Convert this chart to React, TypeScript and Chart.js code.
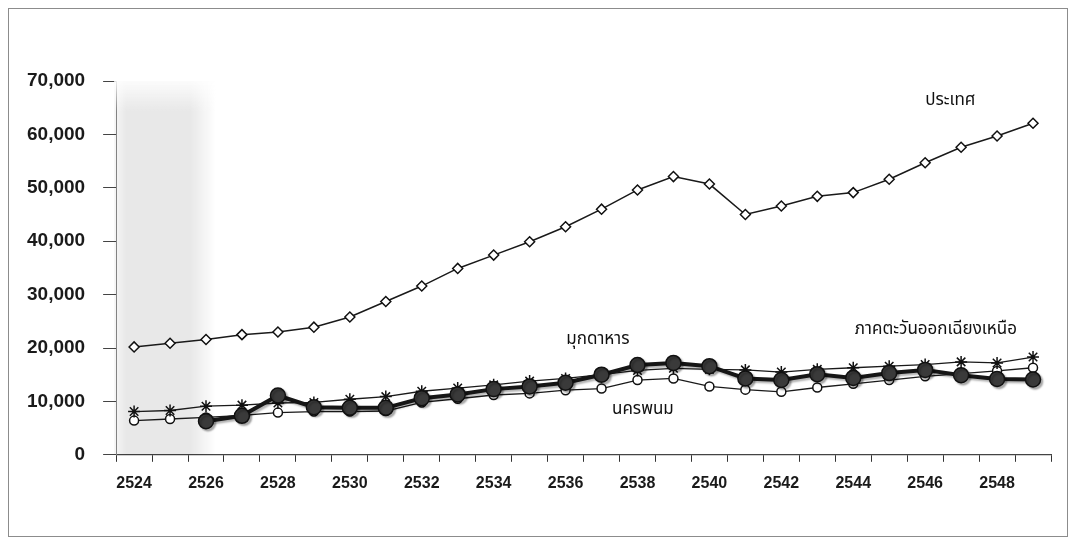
import React, { useEffect, useRef } from "react";
import { Chart, registerables } from "chart.js";

Chart.register(...registerables);

// ---- data ----
const years = [
  "2524", "2525", "2526", "2527", "2528", "2529", "2530", "2531", "2532",
  "2533", "2534", "2535", "2536", "2537", "2538", "2539", "2540", "2541",
  "2542", "2543", "2544", "2545", "2546", "2547", "2548", "2549",
];

const seriesNames = ["มุกดาหาร", "ภาคตะวันออกเฉียงเหนือ", "นครพนม", "ประเทศ"];

const country = [
  20200, 20900, 21600, 22500, 23000, 23900, 25800, 28700, 31600, 34900, 37400,
  39900, 42700, 46000, 49600, 52100, 50700, 45000, 46600, 48400, 49100, 51600,
  54700, 57600, 59700, 62100,
];

const northeast = [
  8100, 8300, 9100, 9300, 9700, 9800, 10400, 10900, 11900, 12500, 13100, 13800,
  14300, 15000, 15800, 16200, 16000, 15900, 15500, 16000, 16300, 16600, 16900,
  17400, 17200, 18300,
];

const mukdahan: (number | null)[] = [
  null, null, 6300, 7300, 11100, 8900, 8800, 8800, 10600, 11300, 12300, 12800,
  13500, 15000, 16800, 17200, 16600, 14300, 14000, 15100, 14400, 15300, 15900,
  14900, 14200, 14100,
];

const nakhonPhanom = [
  6400, 6700, 7000, 7400, 7900, 8100, 8100, 8200, 9800, 10500, 11200, 11500,
  12100, 12400, 14000, 14300, 12800, 12200, 11800, 12600, 13300, 14000, 14700,
  15200, 15700, 16300,
];

const yMin = 0;
const yMax = 70000;
const yStep = 10000;

// in-chart series labels: text, category position (index), value position
const annotationTexts = ["ประเทศ", "มุกดาหาร", "นครพนม", "ภาคตะวันออกเฉียงเหนือ"];
const annotationIndex = [22.7, 12.9, 14.15, 22.3];
const annotationValue = [66100, 21300, 8200, 23200];

const thaiFont = '"Noto Sans Thai", "Tahoma", "Noto Sans", "DejaVu Sans", sans-serif';
const axisFont = '"Liberation Sans", Arial, Helvetica, sans-serif';

export default function App() {
  const canvasRef = useRef<HTMLCanvasElement | null>(null);

  useEffect(() => {
    const canvas = canvasRef.current;
    if (!canvas) return;

    const bandPlugin = {
      id: "scanBand",
      beforeDatasetsDraw(chart: any) {
        const { ctx, chartArea, scales } = chart;
        const x0 = chartArea.left - 2;
        const x1 = scales.x.getPixelForValue(2) + 10;
        const top = scales.y.getPixelForValue(yMax);
        const bottom = scales.y.getPixelForValue(yMin);
        ctx.save();
        const g = ctx.createLinearGradient(x0, 0, x1, 0);
        g.addColorStop(0, "rgba(0,0,0,0.03)");
        g.addColorStop(0.12, "rgba(0,0,0,0.09)");
        g.addColorStop(0.75, "rgba(0,0,0,0.09)");
        g.addColorStop(1, "rgba(0,0,0,0)");
        ctx.fillStyle = g;
        ctx.fillRect(x0, top, x1 - x0, bottom - top);
        const gv = ctx.createLinearGradient(0, top, 0, top + 30);
        gv.addColorStop(0, "rgba(255,255,255,0.85)");
        gv.addColorStop(1, "rgba(255,255,255,0)");
        ctx.fillStyle = gv;
        ctx.fillRect(x0, top, x1 - x0, 30);
        ctx.restore();
      },
    };

    const shadowPlugin = {
      id: "markerShadow",
      beforeDatasetDraw(chart: any, args: any) {
        if (args.index === 0) {
          const ctx = chart.ctx;
          ctx.save();
          ctx.shadowColor = "rgba(0,0,0,0.3)";
          ctx.shadowOffsetX = 2;
          ctx.shadowOffsetY = 2;
          ctx.shadowBlur = 2;
        }
      },
      afterDatasetDraw(chart: any, args: any) {
        if (args.index === 0) chart.ctx.restore();
      },
    };

    const labelPlugin = {
      id: "seriesLabels",
      afterDatasetsDraw(chart: any) {
        const { ctx, scales } = chart;
        ctx.save();
        ctx.fillStyle = "#111";
        ctx.font = `17px ${thaiFont}`;
        ctx.textAlign = "center";
        ctx.textBaseline = "middle";
        annotationTexts.forEach((t, i) => {
          const x = scales.x.getPixelForValue(annotationIndex[i]);
          const y = scales.y.getPixelForValue(annotationValue[i]);
          ctx.fillText(t, x, y);
        });
        ctx.restore();
      },
    };

    const chart = new Chart(canvas, {
      type: "line",
      data: {
        labels: years,
        datasets: [
          {
            label: seriesNames[0],
            data: mukdahan,
            borderColor: "#161616",
            borderWidth: 4,
            pointStyle: "circle",
            pointRadius: 7.5,
            pointBackgroundColor: "#3a3a3a",
            pointBorderColor: "#111",
            pointBorderWidth: 1.5,
            spanGaps: false,
          },
          {
            label: seriesNames[1],
            data: northeast,
            borderColor: "#1a1a1a",
            borderWidth: 1.3,
            pointStyle: "star",
            pointRadius: 6,
            pointBackgroundColor: "#fff",
            pointBorderColor: "#111",
            pointBorderWidth: 1.5,
          },
          {
            label: seriesNames[2],
            data: nakhonPhanom,
            borderColor: "#1a1a1a",
            borderWidth: 1.3,
            pointStyle: "circle",
            pointRadius: 4.5,
            pointBackgroundColor: "#fff",
            pointBorderColor: "#111",
            pointBorderWidth: 1.5,
          },
          {
            label: seriesNames[3],
            data: country,
            borderColor: "#1a1a1a",
            borderWidth: 1.5,
            pointStyle: "rectRot",
            pointRadius: 5,
            pointBackgroundColor: "#fff",
            pointBorderColor: "#111",
            pointBorderWidth: 1.5,
          },
        ],
      },
      options: {
        animation: false,
        responsive: false,
        maintainAspectRatio: false,
        events: [],
        layout: { padding: { left: 0, right: 16, top: 72, bottom: 31 } },
        plugins: {
          legend: { display: false },
          tooltip: { enabled: false },
        },
        scales: {
          x: {
            type: "category",
            offset: true,
            grid: {
              offset: true,
              drawOnChartArea: false,
              drawTicks: true,
              tickLength: 7,
              color: "#333",
            },
            border: { display: true, color: "#444", width: 1.2 },
            ticks: {
              autoSkip: false,
              maxRotation: 0,
              padding: 12,
              color: "#1a1a1a",
              font: { family: axisFont, size: 16, weight: "bold" },
              callback: (_v: any, i: number) => (i % 2 === 0 ? years[i] : ""),
            },
          },
          y: {
            min: yMin,
            max: yMax,
            grid: {
              drawOnChartArea: false,
              drawTicks: true,
              tickLength: 13,
              color: "#444",
            },
            border: { display: true, color: "#888", width: 1 },
            ticks: {
              stepSize: yStep,
              padding: 18,
              color: "#1a1a1a",
              font: { family: axisFont, size: 19, weight: "bold" },
              callback: (v: any) => Number(v).toLocaleString("en-US"),
            },
          },
        },
      },
      plugins: [bandPlugin, shadowPlugin, labelPlugin],
    });

    return () => chart.destroy();
  }, []);

  return (
    <div
      style={{
        width: 1058,
        height: 527,
        border: "1px solid #8c8c8c",
        background: "#fff",
        boxSizing: "content-box",
      }}
    >
      <canvas ref={canvasRef} width={1058} height={527} style={{ display: "block" }} />
    </div>
  );
}
